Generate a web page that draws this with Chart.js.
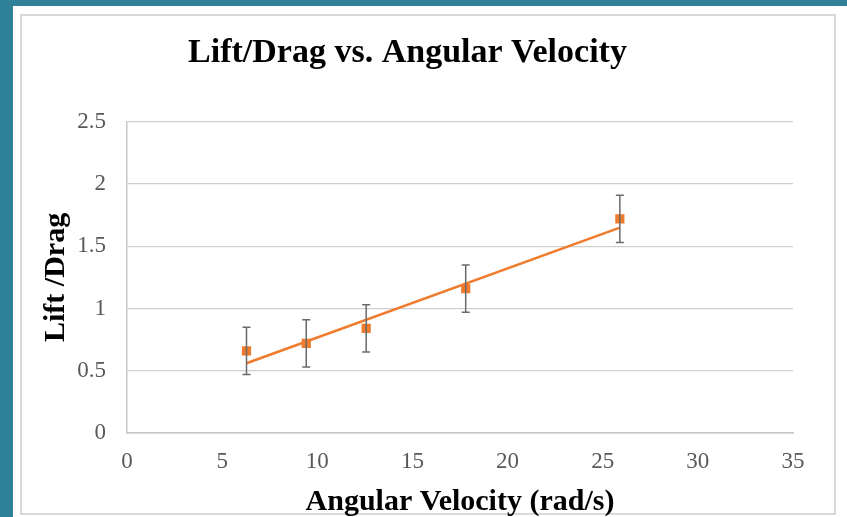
<!DOCTYPE html>
<html>
<head>
<meta charset="utf-8">
<script src="https://cdn.jsdelivr.net/npm/chart.js@4"></script>
<style>
  html, body { margin: 0; padding: 0; background: #2f8199; }
  #wrap { width: 847px; height: 517px; position: relative; }
</style>
</head>
<body>
<div id="wrap"><canvas id="chart" width="847" height="517"></canvas></div>
<script>
// measured points (rad/s vs lift/drag)
const omega = [6.28, 9.42, 12.57, 17.8, 25.9];
const liftDrag = [0.66, 0.72, 0.84, 1.16, 1.72];
const errBar = [0.19, 0.19, 0.19, 0.19, 0.19];

// linear trendline end points
const trendX = [6.28, 25.9];
const trendY = [0.56, 1.65];

const xTicks = [0, 5, 10, 15, 20, 25, 30, 35];
const yTicks = [0, 0.5, 1, 1.5, 2, 2.5];

const orange = '#ef7b2d';
const tickGrey = '#595959';
const serif = "'Liberation Serif', 'Times New Roman', serif";

// teal page edge + white panel with a thin frame
const backdrop = {
  id: 'backdrop',
  beforeDraw(chart) {
    const ctx = chart.ctx;
    ctx.save();
    ctx.fillStyle = '#2f8199';
    ctx.fillRect(0, 0, chart.width, chart.height);
    ctx.fillStyle = '#ffffff';
    ctx.fillRect(13, 6, chart.width - 13, chart.height - 6);
    ctx.strokeStyle = '#d9d9d9';
    ctx.lineWidth = 2;
    ctx.strokeRect(21, 15, 814, 499);
    ctx.restore();
  }
};

// vertical error bars with small caps
const errorBars = {
  id: 'errorBars',
  afterDatasetsDraw(chart) {
    const xs = chart.scales.x, ys = chart.scales.y;
    const ctx = chart.ctx;
    ctx.save();
    ctx.strokeStyle = '#6a6a6a';
    ctx.lineWidth = 1.5;
    omega.forEach((w, i) => {
      const px = xs.getPixelForValue(w);
      const top = ys.getPixelForValue(liftDrag[i] + errBar[i]);
      const bot = ys.getPixelForValue(liftDrag[i] - errBar[i]);
      ctx.beginPath();
      ctx.moveTo(px, top); ctx.lineTo(px, bot);
      ctx.moveTo(px - 4, top); ctx.lineTo(px + 4, top);
      ctx.moveTo(px - 4, bot); ctx.lineTo(px + 4, bot);
      ctx.stroke();
    });
    ctx.restore();
  }
};

new Chart(document.getElementById('chart'), {
  type: 'scatter',
  data: {
    datasets: [
      {
        label: 'Lift/Drag',
        data: omega.map((w, i) => ({ x: w, y: liftDrag[i] })),
        pointStyle: 'rect',
        pointRadius: 6.5,
        backgroundColor: orange,
        borderColor: orange,
        borderWidth: 0,
        order: 2
      },
      {
        label: 'Linear trend',
        type: 'line',
        data: trendX.map((w, i) => ({ x: w, y: trendY[i] })),
        borderColor: orange,
        borderWidth: 2.5,
        pointRadius: 0,
        fill: false,
        order: 1
      }
    ]
  },
  options: {
    responsive: false,
    animation: false,
    layout: { padding: { top: 15, left: 22, right: 54, bottom: 0 } },
    plugins: {
      legend: { display: false },
      tooltip: { enabled: false },
      title: {
        display: true,
        text: 'Lift/Drag vs. Angular Velocity',
        color: '#000',
        font: { family: serif, size: 34, weight: 'bold' },
        padding: { top: 18, bottom: 48 }
      }
    },
    scales: {
      x: {
        type: 'linear',
        min: 0, max: 35,
        afterBuildTicks(scale) { scale.ticks = xTicks.map(v => ({ value: v })); },
        afterFit(scale) { scale.height = 84; },
        grid: { display: false, drawTicks: false },
        border: { display: true, color: '#c8c8c8', width: 1.5 },
        ticks: { padding: 15, color: tickGrey, font: { family: serif, size: 23 }, callback: v => String(v) },
        title: {
          display: true,
          text: 'Angular Velocity (rad/s)',
          color: '#000',
          font: { family: serif, size: 30, weight: 'bold' },
          padding: { top: 4, bottom: -3 }
        }
      },
      y: {
        min: 0, max: 2.5,
        afterBuildTicks(scale) { scale.ticks = yTicks.map(v => ({ value: v })); },
        afterFit(scale) { scale.width = 105; },
        grid: { color: '#cfcfcf', lineWidth: 1.2, drawTicks: false },
        border: { display: true, color: '#c8c8c8', width: 1.5 },
        ticks: { padding: 21, color: tickGrey, font: { family: serif, size: 23 }, callback: v => String(v) },
        title: {
          display: true,
          text: 'Lift /Drag',
          color: '#000',
          font: { family: serif, size: 30, weight: 'bold' },
          padding: { top: 16, bottom: 0 }
        }
      }
    }
  },
  plugins: [backdrop, errorBars]
});
</script>
</body>
</html>
